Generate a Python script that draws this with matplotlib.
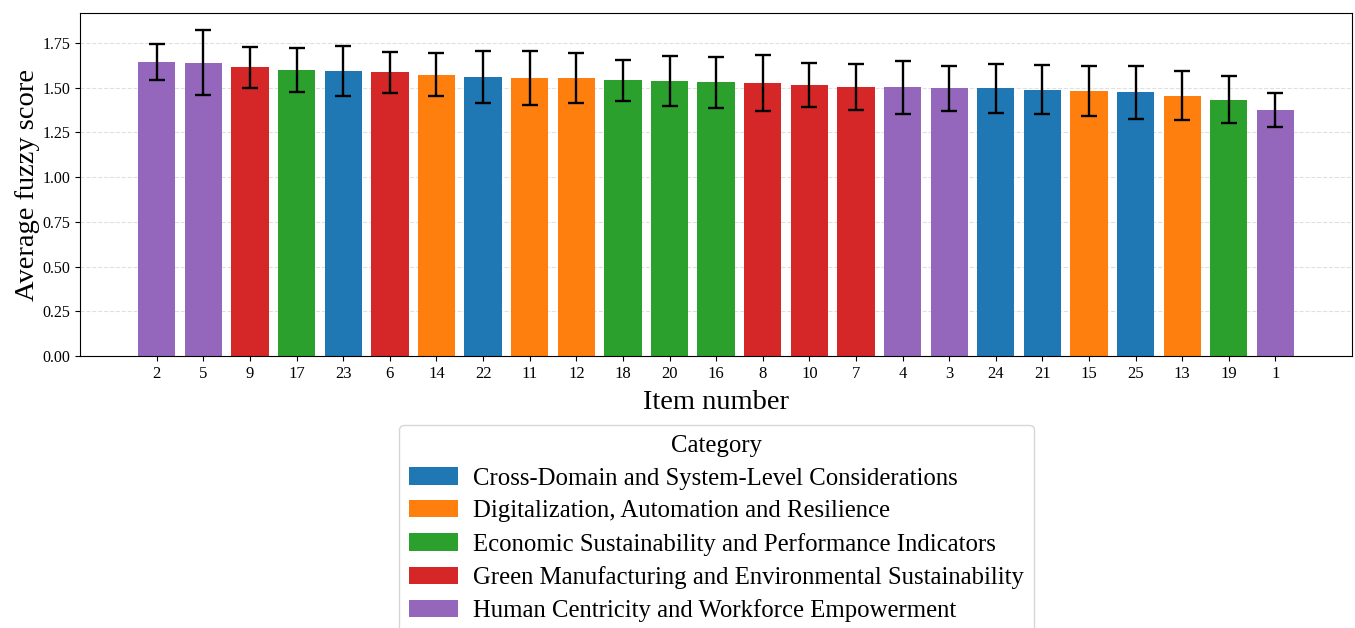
import matplotlib.pyplot as plt
from matplotlib.patches import Patch

plt.rcParams['font.family'] = ['Liberation Serif', 'DejaVu Serif']

# items sorted by average fuzzy score
items = ["2", "5", "9", "17", "23", "6", "14", "22", "11", "12", "18", "20", "16",
         "8", "10", "7", "4", "3", "24", "21", "15", "25", "13", "19", "1"]
scores = [1.642, 1.640, 1.615, 1.601, 1.595, 1.586, 1.574, 1.561, 1.557, 1.557,
          1.541, 1.537, 1.530, 1.528, 1.518, 1.504, 1.502, 1.498, 1.496, 1.490,
          1.481, 1.474, 1.455, 1.433, 1.378]
errors = [0.100, 0.182, 0.115, 0.123, 0.141, 0.115, 0.122, 0.145, 0.151, 0.140,
          0.117, 0.140, 0.143, 0.157, 0.123, 0.128, 0.147, 0.126, 0.138, 0.135,
          0.138, 0.149, 0.137, 0.131, 0.095]
item_cats = ["Human", "Human", "Green", "Econ", "Cross", "Green", "Digital", "Cross",
             "Digital", "Digital", "Econ", "Econ", "Econ", "Green", "Green", "Green",
             "Human", "Human", "Cross", "Cross", "Digital", "Cross", "Digital", "Econ",
             "Human"]

cat_keys = ["Cross", "Digital", "Econ", "Green", "Human"]
cat_names = ["Cross-Domain and System-Level Considerations",
             "Digitalization, Automation and Resilience",
             "Economic Sustainability and Performance Indicators",
             "Green Manufacturing and Environmental Sustainability",
             "Human Centricity and Workforce Empowerment"]
cat_colors = ["#1f77b4", "#ff7f0e", "#2ca02c", "#d62728", "#9467bd"]
color_of = dict(zip(cat_keys, cat_colors))

fig = plt.figure(figsize=(13.55, 6.28), dpi=100)
ax = fig.add_axes([0.059, 0.433, 0.939, 0.546])

x = list(range(len(items)))
ax.bar(x, scores, width=0.8, color=[color_of[c] for c in item_cats],
       yerr=errors, capsize=6, error_kw=dict(elinewidth=1.7, capthick=1.7, ecolor='black'))

ax.set_xticks(x)
ax.set_xticklabels(items, fontsize=12)
ax.tick_params(axis='y', labelsize=11.5)
ax.set_xlim(-1.65, 25.65)
ax.set_ylim(0, 1.917)
ax.yaxis.grid(True, linestyle='--', color='#cccccc', alpha=0.6)
ax.set_axisbelow(True)
ax.set_xlabel("Item number", fontsize=20.5, labelpad=6)
ax.set_ylabel("Average fuzzy score", fontsize=20.5, labelpad=2)

handles = [Patch(facecolor=c, label=n) for c, n in zip(cat_colors, cat_names)]
ax.legend(handles=handles, title="Category", loc='upper center',
          bbox_to_anchor=(0.5, -0.201), borderaxespad=0, fontsize=17.8,
          title_fontsize=17.8, handletextpad=0.6, labelspacing=0.42)

fig.savefig("out.png", dpi=100)
